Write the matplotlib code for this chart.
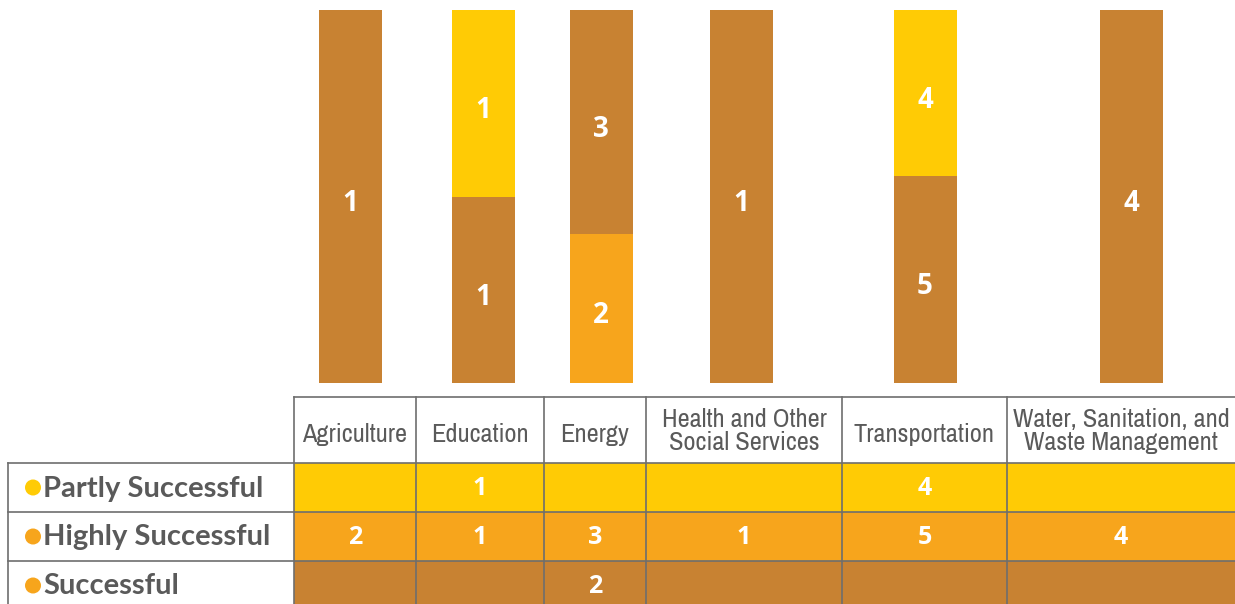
import matplotlib.pyplot as plt
from matplotlib.patches import Rectangle, Circle
from matplotlib import font_manager

# data
sectors = ['Agriculture', 'Education', 'Energy', 'Health and Other\nSocial Services',
           'Transportation', 'Water, Sanitation, and\nWaste Management']
row_names = ['Partly Successful', 'Highly Successful', 'Successful']

# table values (blank = none)
partly = ['', '1', '', '', '4', '']
highly = ['2', '1', '3', '1', '5', '4']
successful = ['', '', '2', '', '', '']

# stacked bar segments, bottom to top
bar_orange = [0, 0, 2, 0, 0, 0]
bar_brown = [1, 1, 3, 1, 5, 4]
bar_yellow = [0, 1, 0, 0, 4, 0]

YELLOW = '#FFCB05'
ORANGE = '#F7A51C'
BROWN = '#C88232'
GRID = '#6E6E6E'
TXT = '#5A5A5A'

# pick a narrow font for the headers if one is installed
narrow = None
for f in font_manager.fontManager.ttflist:
    if 'Narrow' in f.name or 'Condensed' in f.name:
        narrow = f.name
        break
    if f.stretch in ('condensed', 'semi-condensed', 525, 500) and narrow is None:
        narrow = f.name
head_font = dict(family=[narrow or 'DejaVu Sans', 'DejaVu Sans'])
if narrow is None or narrow == 'DejaVu Sans':
    head_font = dict(family=['DejaVu Sans'], stretch='condensed')

W, H = 1235, 604
fig = plt.figure(figsize=(W / 100, H / 100), dpi=100)

# ---- table (pixel coords) ----
tab = fig.add_axes([0, 0, 1, 1])
tab.set_xlim(0, W)
tab.set_ylim(H, 0)
tab.axis('off')

col_edges = [294, 416, 544, 646, 842, 1007, 1235]
row_edges = [463, 512, 561, 610]
head_top = 397
row_colors = [YELLOW, ORANGE, BROWN]
bullet_colors = [YELLOW, ORANGE, ORANGE]
table_rows = [partly, highly, successful]

for r in range(3):
    tab.add_patch(Rectangle((col_edges[0], row_edges[r]), W - col_edges[0],
                            row_edges[r + 1] - row_edges[r], color=row_colors[r], lw=0))
    yc = (row_edges[r] + row_edges[r + 1]) / 2 + 1
    tab.add_patch(Circle((33, yc - 1), 8, color=bullet_colors[r], lw=0))
    tab.text(43, yc, row_names[r], ha='left', va='center', fontsize=21,
             fontweight='bold', color=TXT, family=['Lato', 'DejaVu Sans'])
    for c in range(6):
        xc = (col_edges[c] + col_edges[c + 1]) / 2
        if table_rows[r][c]:
            tab.text(xc, yc, table_rows[r][c], ha='center', va='center', fontsize=18,
                     fontweight='bold', color='white', family=['Open Sans', 'DejaVu Sans'])

for c in range(6):
    xc = (col_edges[c] + col_edges[c + 1]) / 2
    y = 431 if '\n' in sectors[c] else 435
    tab.text(xc, y, sectors[c], ha='center', va='center', fontsize=19,
             color=TXT, linespacing=1.0, **head_font)

# grid lines
lw = 1.2
tab.plot([col_edges[0], W], [head_top, head_top], color=GRID, lw=lw)
for y in row_edges[:-1]:
    tab.plot([8, W], [y, y], color=GRID, lw=lw)
tab.plot([8, 8], [row_edges[0], H], color=GRID, lw=lw)
for x in col_edges[:-1]:
    tab.plot([x, x], [head_top, H], color=GRID, lw=lw)

# ---- bars ----
bar_x = [350, 483, 601, 741, 925, 1131]
ax = fig.add_axes([0, (H - 383) / H, 1, 373 / H])
ax.set_xlim(0, W)
ax.set_ylim(0, 1)
ax.axis('off')
ax.patch.set_alpha(0)

totals = [a + b + c for a, b, c in zip(bar_orange, bar_brown, bar_yellow)]
bottom = [0.0] * 6
for vals, col in [(bar_orange, ORANGE), (bar_brown, BROWN), (bar_yellow, YELLOW)]:
    frac = [v / t for v, t in zip(vals, totals)]
    ax.bar(bar_x, frac, width=63, bottom=bottom, color=col, lw=0)
    for i, v in enumerate(vals):
        if v > 0:
            ax.text(bar_x[i], bottom[i] + frac[i] / 2 - 0.02, str(v), ha='center',
                    va='center', fontsize=20, fontweight='bold', color='white',
                    family=['Open Sans', 'DejaVu Sans'])
    bottom = [b + f for b, f in zip(bottom, frac)]

fig.savefig('out.png', dpi=100)
